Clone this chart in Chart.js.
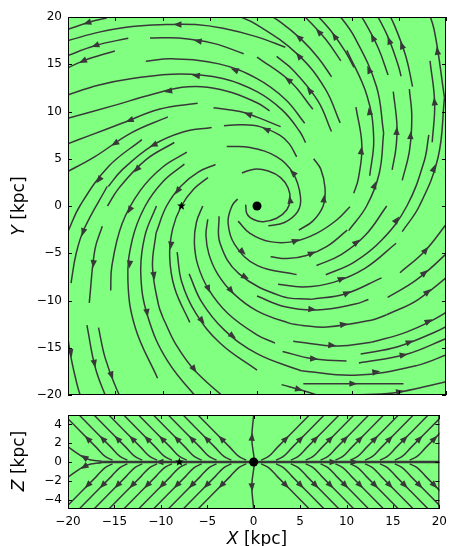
<!DOCTYPE html>
<html>
<head>
<meta charset="utf-8">
<title>Magnetic field lines</title>
<script src="https://cdn.jsdelivr.net/npm/chart.js@4.4.1/dist/chart.umd.min.js"></script>
<style>
  body { margin: 0; background: #fff; }
  .panel { position: absolute; left: 0; }
</style>
</head>
<body>
<canvas id="xy" class="panel" style="top:0" width="453" height="410"></canvas>
<canvas id="xz" class="panel" style="top:400px" width="453" height="146"></canvas>
<script>
// field lines in the disc plane, x/y in kpc, points listed along the field direction
const xyStreams = [
  // top: field running to the left
  [[-15.9, 19.9], [-17.6, 19.5], [-20, 18.7]],
  [[3.0, 16.8], [0, 17.9], [-3.6, 18.8], [-6.5, 19.2], [-9.6, 19.2], [-13.2, 19.0], [-16.7, 18.4], [-20, 17.5]],
  [[-13.62, 17.75], [-17.01, 17.01], [-20.5, 15.73]],
  [[-1.41, 16.12], [-4.61, 17.21], [-8.28, 17.77], [-11.32, 17.77]],
  [[-15.04, 16.41], [-18.32, 15.38], [-21.68, 13.81]],
  [[5.05, 8.75], [3.02, 11.27], [0, 13.48], [-4.03, 15.04], [-8.99, 15.57], [-11.76, 15.32]],
  [[5.14, 6.7], [4.54, 7.86], [2.71, 10.12], [0, 12.1], [-3.62, 13.5], [-8.07, 13.98], [-13.2, 13.5], [-16.7, 12.8], [-20.5, 11.6]],
  [[1.33, 10.07], [0, 10.92], [-3.26, 12.18], [-7.28, 12.61], [-11.5, 11.7], [-14.9, 10.7], [-20.3, 9.2]],
  [[2.5, 8.4], [0, 9.4], [-1.8, 10.0], [-4.6, 10.4]],
  [[4.2, 5.2], [3.4, 6.6], [2.4, 7.5], [0.3, 8.4], [-1.8, 8.6], [-3.5, 8.5]],
  [[-6.28, 10.88], [-10.26, 10.26], [-14.3, 8.75], [-17.6, 7.5], [-20.5, 6.4]],
  [[-9.43, 9.43], [-13.35, 7.71], [-17.19, 5.2], [-20.5, 3.4]],
  [[-4.8, 8.31], [-7.83, 7.83], [-11.08, 6.4], [-14.27, 3.82], [-15.73, 2.07]],
  [[-12.18, 7.03], [-15.69, 4.2], [-18.75, 0], [-19.97, -2.63]],
  [[-8.75, 6.72], [-11.77, 4.88], [-14.59, 1.92], [-15.82, 0]],
  // upper right: field running upwards
  [[7.88, 7.88], [6.43, 11.14], [3.85, 14.35], [2.08, 15.83]],
  [[5.91, 10.23], [3.53, 13.18], [0, 15.76]],
  [[8.8, 8.8], [7.19, 12.45], [4.3, 16.04], [0, 19.17], [-2.69, 20.42]],
  [[7.89, 13.67], [6.49, 15.67], [4.72, 17.61], [2.56, 19.41], [0, 21.05]],
  [[8.87, 15.36], [7.29, 17.61], [5.3, 19.79], [3.73, 21.16]],
  [[10.27, 14.66], [9.39, 16.27], [7.73, 18.65], [5.62, 20.96]],
  [[9.7, -2.6], [11.6, 0], [12.94, 3.47], [13.4, 7.74]],
  [[13.4, 7.74], [12.64, 12.64], [10.32, 17.87], [8.49, 20.49]],
  [[11.93, 3.2], [12.35, 7.13], [11.65, 11.65], [9.51, 16.47]],
  [[10.24, 1.35], [10.72, 2.87], [11.1, 6.41], [10.47, 10.47]],
  [[14.3, 3.83], [14.7, 6.09], [14.81, 8.55], [14.42, 12.1]],
  [[13.87, 13.87], [12.83, 16.72], [11.32, 19.61], [10.04, 21.53]],
  [[15.37, 2.71], [16.14, 5.88], [16.38, 9.46], [16.12, 12.37]],
  [[16.46, 12.63], [15.77, 15.77], [14.59, 19.01], [13.51, 21.21]],
  [[15.25, 13.73], [14.93, 14.93], [13.81, 18.0], [12.2, 21.12]],
  [[18.54, 6.75], [18.8, 10.86], [18.31, 15.36]],
  [[15.37, -2.71], [17.18, 0], [19.16, 5.13], [19.84, 11.46]],
  [[19.84, 11.46], [18.73, 18.73], [17.84, 21.27]],
  // inner spiral
  [[-1.2, 0.15], [-1.05, -0.85], [-0.3, -1.45], [0.67, -1.66], [2.08, -1.3], [3.14, -0.42], [3.5, 0.63], [3.3, 1.9], [2.5, 3.0], [1.2, 3.7], [-0.3, 3.9], [-1.6, 3.5]],
  [[1.2, -2.1], [2.9, -1.75], [4.3, -0.6], [4.6, 1.0], [3.8, 3.5], [2.1, 5.2], [-0.74, 6.2], [-3.2, 6.3]],
  [[4.42, -2.55], [5.9, -1.6], [7.0, 0], [7.2, 1.9], [6.75, 3.9], [6.0, 5.0]],
  [[-2.0, -1.6], [-0.74, -2.89], [1.38, -3.77], [3.84, -3.77], [6.31, -2.89], [8.43, -1.48], [9.84, -0.07]],
  // left: field running downwards
  [[-5.19, 3.0], [-6.69, 1.79], [-8.0, 0], [-8.92, -2.39], [-9.24, -5.33], [-8.71, -8.71], [-7.11, -12.32]],
  [[-4.39, 4.39], [-6.22, 3.59], [-8.01, 2.15], [-9.57, 0], [-10.68, -2.86]],
  [[-10.68, -2.86], [-11.06, -6.38], [-10.43, -10.43], [-9.94, -11.85]],
  [[-9.94, -11.85], [-8.52, -14.75], [-6.41, -17.6], [-1.89, -21.56]],
  [[-10.64, 0], [-11.87, -3.18], [-12.3, -7.1], [-11.59, -11.59], [-9.47, -16.39], [-5.66, -21.12]],
  [[-7.68, 4.43], [-9.89, 2.65], [-11.83, 0], [-13.19, -3.54], [-13.66, -7.89], [-12.88, -12.88], [-10.52, -18.22]],
  [[-7.42, 5.69], [-9.97, 4.13], [-12.36, 1.63], [-14.28, -1.88], [-15.36, -6.36], [-15.48, -8.94]],
  [[-16.77, -12.87], [-16.07, -16.07], [-14.86, -19.37], [-13.12, -22.73]],
  [[-16.37, -2.15], [-17.15, -4.59], [-17.75, -10.25]],
  [[-18.0, -12.61], [-17.11, -17.11], [-15.83, -20.63]],
  [[-15.84, 2.09], [-18.29, -2.41], [-19.16, -5.13], [-19.68, -8.15]],
  [[-20.11, -9.38], [-20.0, -14.01], [-19.01, -19.01], [-18.13, -21.6]],
  [[-8.45, -4.88], [-7.98, -7.98], [-6.51, -11.28], [-3.89, -14.53], [0, -17.37]],
  [[-7.18, -7.18], [-5.86, -10.15], [-3.5, -13.08], [0, -15.63], [4.67, -17.44]],
  [[-5.74, 0], [-6.41, -1.72], [-6.63, -3.83], [-6.26, -6.26], [-5.11, -8.85], [-3.05, -11.4], [0, -13.63], [1.91, -14.51]],
  [[-5.21, -1.4], [-5.4, -3.12], [-5.09, -5.09], [-4.16, -7.2], [-2.48, -9.27], [0, -11.09], [3.32, -12.37], [4.59, -12.62]],
  [[-4.02, -1.08], [-3.92, -3.92], [-1.92, -7.15], [2.56, -9.54], [5.7, -9.88]],
  [[-2.05, 0.75], [-2.65, 0], [-3.06, -1.77], [-2.35, -4.08], [0, -6.28], [4.19, -7.26]],
  // lower right: field running to the right
  [[1.44, -5.37], [3.21, -5.56], [5.24, -5.24], [7.41, -4.28], [9.55, -2.56]],
  [[6.3, -6.3], [8.91, -5.15], [11.48, -3.08], [13.73, 0]],
  [[7.28, -7.28], [10.29, -5.94], [13.26, -3.55], [15.86, 0], [17.69, 4.74], [18.18, 7.53]],
  [[2.22, -8.28], [4.95, -8.57], [8.08, -8.08], [11.42, -6.6], [14.72, -3.94]],
  [[5.7, -9.88], [9.31, -9.31], [13.18, -7.61]],
  [[15.13, -7.06], [17.77, -4.76], [20.15, -1.76]],
  [[0, -9.53], [2.85, -10.63], [6.35, -11.0], [10.38, -10.38], [11.79, -9.89]],
  [[13.82, -9.68], [16.83, -7.85], [19.76, -5.3], [21.12, -3.72]],
  [[4.59, -12.62], [7.4, -12.81], [12.08, -12.08], [13.72, -11.51]],
  [[13.72, -11.51], [17.09, -9.87], [22.01, -5.9]],
  [[3.83, -14.31], [8.56, -14.82], [12.1, -14.42]],
  [[12.1, -14.42], [15.87, -13.32], [19.76, -11.41], [23.6, -8.6]],
  [[10.97, -15.66], [14.89, -14.89], [18.97, -13.28], [21.06, -12.16]],
  [[2.71, -15.39], [5.88, -16.16], [9.47, -16.41]],
  [[10.78, -16.61], [15.72, -15.72], [20.03, -14.02]],
  [[4.67, -17.44], [10.34, -17.91], [16.89, -16.89], [20.35, -15.62]],
  [[4.9, -18.8], [10.2, -18.8], [15.5, -18.8]],
  [[2.6, -18.9], [5.1, -19.6], [6.3, -20]],
  [[10.2, -20], [14.4, -19.8], [20, -18.6]]
];

// field lines in the vertical plane, x/z in kpc, from the mid-plane outwards
const xzStreams = [
  // upper right
  [[0.8, 0.2], [1.6, 0.6], [2.5, 1.5], [6.0, 5.0]],
  [[2.4, 0.2], [3.2, 0.6], [4.1, 1.5], [7.6, 5.0]],
  [[4.0, 0.2], [4.8, 0.6], [5.7, 1.5], [9.2, 5.0]],
  [[5.6, 0.2], [6.4, 0.6], [7.3, 1.5], [10.8, 5.0]],
  [[7.2, 0.2], [8.0, 0.6], [8.9, 1.5], [12.4, 5.0]],
  [[8.8, 0.2], [9.6, 0.6], [10.5, 1.5], [14.0, 5.0]],
  [[10.4, 0.2], [11.2, 0.6], [12.1, 1.5], [15.6, 5.0]],
  [[12.0, 0.2], [12.8, 0.6], [13.7, 1.5], [17.2, 5.0]],
  [[13.6, 0.2], [14.4, 0.6], [15.3, 1.5], [18.8, 5.0]],
  [[15.2, 0.2], [16.0, 0.6], [16.9, 1.5], [20.4, 5.0]],
  [[16.8, 0.2], [17.6, 0.6], [18.5, 1.5], [22.0, 5.0]],
  // lower right
  [[0.8, -0.2], [1.6, -0.6], [2.5, -1.5], [6.0, -5.0]],
  [[2.4, -0.2], [3.2, -0.6], [4.1, -1.5], [7.6, -5.0]],
  [[4.0, -0.2], [4.8, -0.6], [5.7, -1.5], [9.2, -5.0]],
  [[5.6, -0.2], [6.4, -0.6], [7.3, -1.5], [10.8, -5.0]],
  [[7.2, -0.2], [8.0, -0.6], [8.9, -1.5], [12.4, -5.0]],
  [[8.8, -0.2], [9.6, -0.6], [10.5, -1.5], [14.0, -5.0]],
  [[10.4, -0.2], [11.2, -0.6], [12.1, -1.5], [15.6, -5.0]],
  [[12.0, -0.2], [12.8, -0.6], [13.7, -1.5], [17.2, -5.0]],
  [[13.6, -0.2], [14.4, -0.6], [15.3, -1.5], [18.8, -5.0]],
  [[15.2, -0.2], [16.0, -0.6], [16.9, -1.5], [20.4, -5.0]],
  [[16.8, -0.2], [17.6, -0.6], [18.5, -1.5], [22.0, -5.0]],
  // upper left
  [[-0.8, 0.2], [-1.6, 0.6], [-2.5, 1.5], [-6.0, 5.0]],
  [[-2.4, 0.2], [-3.2, 0.6], [-4.1, 1.5], [-7.6, 5.0]],
  [[-4.0, 0.2], [-4.8, 0.6], [-5.7, 1.5], [-9.2, 5.0]],
  [[-5.6, 0.2], [-6.4, 0.6], [-7.3, 1.5], [-10.8, 5.0]],
  [[-7.2, 0.2], [-8.0, 0.6], [-8.9, 1.5], [-12.4, 5.0]],
  [[-8.8, 0.2], [-9.6, 0.6], [-10.5, 1.5], [-14.0, 5.0]],
  [[-10.4, 0.2], [-11.2, 0.6], [-12.1, 1.5], [-15.6, 5.0]],
  [[-12.0, 0.2], [-12.8, 0.6], [-13.7, 1.5], [-17.2, 5.0]],
  [[-13.6, 0.2], [-14.4, 0.6], [-15.3, 1.5], [-18.8, 5.0]],
  [[-15.2, 0.2], [-16.0, 0.6], [-16.9, 1.5], [-20.4, 5.0]],
  // lower left
  [[-0.8, -0.2], [-1.6, -0.6], [-2.5, -1.5], [-6.0, -5.0]],
  [[-2.4, -0.2], [-3.2, -0.6], [-4.1, -1.5], [-7.6, -5.0]],
  [[-4.0, -0.2], [-4.8, -0.6], [-5.7, -1.5], [-9.2, -5.0]],
  [[-5.6, -0.2], [-6.4, -0.6], [-7.3, -1.5], [-10.8, -5.0]],
  [[-7.2, -0.2], [-8.0, -0.6], [-8.9, -1.5], [-12.4, -5.0]],
  [[-8.8, -0.2], [-9.6, -0.6], [-10.5, -1.5], [-14.0, -5.0]],
  [[-10.4, -0.2], [-11.2, -0.6], [-12.1, -1.5], [-15.6, -5.0]],
  [[-12.0, -0.2], [-12.8, -0.6], [-13.7, -1.5], [-17.2, -5.0]],
  [[-13.6, -0.2], [-14.4, -0.6], [-15.3, -1.5], [-18.8, -5.0]],
  [[-15.2, -0.2], [-16.0, -0.6], [-16.9, -1.5], [-20.4, -5.0]],
  // along the axis and the mid-plane
  [[0.05, 0.4], [-0.2, 2.5], [0.0, 5.0]],
  [[0.05, -0.4], [-0.2, -2.5], [0.0, -5.0]],
  [[-16.3, 0.05], [-18.0, 0.35], [-20, 1.6]],
  [[-16.3, -0.05], [-18.0, -0.35], [-20, -1.6]],
  [[-4, 0], [-16.3, 0]],
  [[0.5, 0], [16.7, 0]],
  [[1.8, 0], [20, 0]]
];
const midplane = [[-16.3, 0], [20, 0]];

const sunPos = [-8, 0];
const centrePos = [0, 0];
const xTicks = [-20, -15, -10, -5, 0, 5, 10, 15, 20];
const yTicks = [-20, -15, -10, -5, 0, 5, 10, 15, 20];
const zTicks = [-4, -2, 0, 2, 4];

const FIELD_BG = '#80ff80';
const LINE_COL = '#383838';
const FONT = '"DejaVu Sans", sans-serif';

function minusSign(v) {
  return String(v).replace('-', '\u2212');
}

function streamDatasets(streams, width) {
  return streams.map(s => ({
    data: s.map(p => ({ x: p[0], y: p[1] })),
    showLine: true,
    borderColor: LINE_COL,
    borderWidth: width,
    pointRadius: 0,
    tension: 0.4,
    arrow: true
  }));
}

// arrow head half way along the drawn length of a line
function drawArrow(ctx, pts) {
  let total = 0;
  const segs = [];
  for (let i = 1; i < pts.length; i++) {
    const l = Math.hypot(pts[i][0] - pts[i - 1][0], pts[i][1] - pts[i - 1][1]);
    segs.push(l);
    total += l;
  }
  if (total < 1) return;
  let half = total / 2, i = 0;
  while (i < segs.length - 1 && half > segs[i]) { half -= segs[i]; i++; }
  const [x0, y0] = pts[i], [x1, y1] = pts[i + 1];
  const t = segs[i] ? half / segs[i] : 0;
  const cx = x0 + (x1 - x0) * t, cy = y0 + (y1 - y0) * t;
  const dx = (x1 - x0) / segs[i], dy = (y1 - y0) / segs[i];
  const L = 8, W = 3.2;
  ctx.beginPath();
  ctx.moveTo(cx + dx * L / 2, cy + dy * L / 2);
  ctx.lineTo(cx - dx * L / 2 - dy * W, cy - dy * L / 2 + dx * W);
  ctx.lineTo(cx - dx * L / 2 + dy * W, cy - dy * L / 2 - dx * W);
  ctx.closePath();
  ctx.fill();
}

function drawStar(ctx, x, y, r) {
  ctx.beginPath();
  for (let k = 0; k < 10; k++) {
    const rr = k % 2 ? r * 0.42 : r;
    const a = -Math.PI / 2 + k * Math.PI / 5;
    ctx.lineTo(x + rr * Math.cos(a), y + rr * Math.sin(a));
  }
  ctx.closePath();
  ctx.fill();
}

function drawTitle(ctx, x, y, rot, letter, rest, size) {
  ctx.save();
  ctx.translate(x, y);
  ctx.rotate(rot);
  ctx.fillStyle = '#000';
  ctx.textBaseline = 'middle';
  ctx.font = `italic ${size}px ${FONT}`;
  const w1 = ctx.measureText(letter).width;
  ctx.font = `${size}px ${FONT}`;
  const w2 = ctx.measureText(rest).width;
  const x0 = -(w1 + w2) / 2;
  ctx.font = `italic ${size}px ${FONT}`;
  ctx.fillText(letter, x0, 0);
  ctx.font = `${size}px ${FONT}`;
  ctx.fillText(rest, x0 + w1, 0);
  ctx.restore();
}

// green plot face, arrows, markers, inward ticks and frame
const panelDecor = {
  id: 'panelDecor',
  beforeDatasetsDraw(chart) {
    const { ctx, chartArea: a } = chart;
    ctx.save();
    ctx.fillStyle = FIELD_BG;
    ctx.fillRect(a.left, a.top, a.width, a.height);
    ctx.restore();
  },
  afterDatasetsDraw(chart, args, opts) {
    const { ctx, chartArea: a, scales } = chart;
    const sx = scales.x, sy = scales.y;
    ctx.save();
    ctx.beginPath();
    ctx.rect(a.left, a.top, a.width, a.height);
    ctx.clip();
    ctx.fillStyle = LINE_COL;
    chart.data.datasets.forEach((ds, i) => {
      if (!ds.arrow) return;
      const pts = chart.getDatasetMeta(i).data.map(e => [e.x, e.y]);
      drawArrow(ctx, pts);
    });
    ctx.fillStyle = '#000';
    ctx.beginPath();
    ctx.arc(sx.getPixelForValue(centrePos[0]), sy.getPixelForValue(centrePos[1]), 4.5, 0, Math.PI * 2);
    ctx.fill();
    drawStar(ctx, sx.getPixelForValue(sunPos[0]), sy.getPixelForValue(sunPos[1]), 4.5);
    ctx.restore();

    ctx.save();
    ctx.strokeStyle = '#000';
    ctx.lineWidth = 1;
    const T = 4;
    ctx.beginPath();
    opts.xTicks.forEach(v => {
      const px = Math.round(sx.getPixelForValue(v)) + 0.5;
      ctx.moveTo(px, a.top); ctx.lineTo(px, a.top + T);
      ctx.moveTo(px, a.bottom); ctx.lineTo(px, a.bottom - T);
    });
    opts.yTicks.forEach(v => {
      const py = Math.round(sy.getPixelForValue(v)) + 0.5;
      ctx.moveTo(a.left, py); ctx.lineTo(a.left + T, py);
      ctx.moveTo(a.right, py); ctx.lineTo(a.right - T, py);
    });
    ctx.stroke();
    ctx.strokeRect(a.left + 0.5, a.top + 0.5, a.width - 1, a.height - 1);
    ctx.restore();

    (opts.titles || []).forEach(t => drawTitle(ctx, t.x, t.y, t.rot, t.letter, t.rest, t.size));
  }
};

function tickScale(min, max, values, showLabels, extra) {
  return Object.assign({
    type: 'linear',
    min, max,
    display: showLabels,
    afterBuildTicks: s => { s.ticks = values.map(v => ({ value: v })); },
    grid: { display: false, drawTicks: false },
    border: { display: false },
    ticks: {
      color: '#000',
      font: { family: FONT, size: 12 },
      padding: 6,
      callback: v => minusSign(v)
    }
  }, extra);
}

function makePanel(id, streams, yLimits, yValues, showX, padding, titles) {
  return new Chart(document.getElementById(id), {
    type: 'scatter',
    data: { datasets: streams },
    options: {
      responsive: false,
      animation: false,
      events: [],
      layout: { padding },
      plugins: {
        legend: { display: false },
        tooltip: { enabled: false },
        panelDecor: { xTicks, yTicks: yValues, titles }
      },
      scales: {
        x: tickScale(-20, 20, xTicks, showX, showX ? { afterFit: s => { s.height = 37; } } : {}),
        y: tickScale(yLimits[0], yLimits[1], yValues, true, { afterFit: s => { s.width = 68; } })
      }
    },
    plugins: [panelDecor]
  });
}

makePanel('xy', streamDatasets(xyStreams, 1.5), [-20, 20], yTicks, false,
  { top: 17, right: 7, bottom: 15, left: 0 },
  [{ x: 20, y: 206, rot: -Math.PI / 2, letter: 'Y', rest: ' [kpc]', size: 17 }]);

const xzSets = streamDatasets(xzStreams, 1.5);
xzSets.push({
  data: midplane.map(p => ({ x: p[0], y: p[1] })),
  showLine: true, borderColor: LINE_COL, borderWidth: 2.4, pointRadius: 0, arrow: false
});
makePanel('xz', xzSets, [-5, 5], zTicks, true,
  { top: 15, right: 7, bottom: 0, left: 0 },
  [{ x: 20, y: 61, rot: -Math.PI / 2, letter: 'Z', rest: ' [kpc]', size: 17 },
   { x: 257, y: 140, rot: 0, letter: 'X', rest: ' [kpc]', size: 17 }]);
</script>
</body>
</html>
